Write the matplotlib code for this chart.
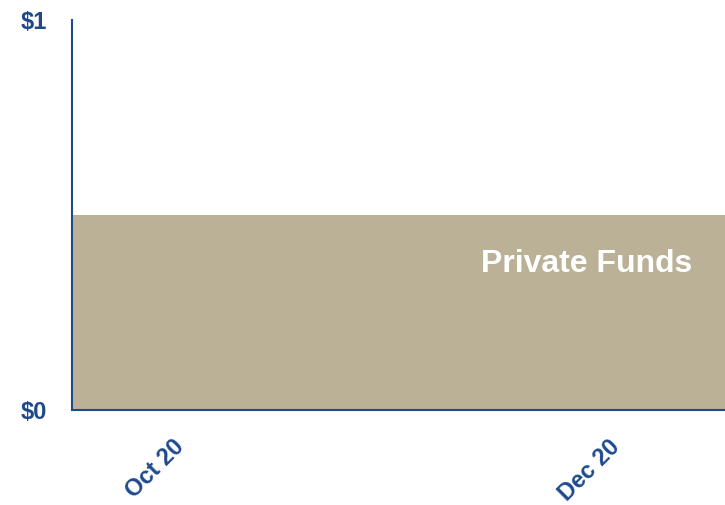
import numpy as np
import matplotlib
matplotlib.use("Agg")
import matplotlib.pyplot as plt

plt.rcParams['font.family'] = ['Liberation Sans', 'DejaVu Sans']

# Monthly periods and private fund balances ($)
months = ['Oct 20', 'Nov 20', 'Dec 20']
private_funds = [0.5, 0.5, 0.5]
tick_labels = ['Oct 20', '', 'Dec 20']
y_ticks = [0, 1]
y_labels = ['$0', '$1']

blue = '#1F4A8A'
tan = '#BBB196'

fig = plt.figure(figsize=(7.25, 5.05), dpi=100)
ax = fig.add_axes([72 / 725, 95 / 505, 653 / 725, 390 / 505])

x = np.arange(len(months))
edges = np.arange(len(months) + 1) - 0.5
ax.stairs(private_funds, edges, fill=True, color=tan, linewidth=0, baseline=0)

ax.set_xlim(edges[0], edges[-1])
ax.set_ylim(0, 1)

ax.text(2.35, 0.375, 'Private Funds', color='white', fontsize=23,
        fontweight='bold', ha='right', va='center')

ax.set_yticks(y_ticks)
ax.set_yticklabels(y_labels, fontsize=17, fontweight='bold', color=blue)
ax.set_xticks(x)
ax.set_xticklabels(tick_labels, fontsize=17, fontweight='bold', color=blue,
                   rotation=45, ha='right', va='center', rotation_mode='anchor')
ax.tick_params(axis='y', length=0, pad=18)
ax.tick_params(axis='x', length=0, pad=24)

for side in ('top', 'right'):
    ax.spines[side].set_visible(False)
for side in ('left', 'bottom'):
    ax.spines[side].set_color(blue)
    ax.spines[side].set_linewidth(1.5)

fig.savefig('out.png', dpi=100)
